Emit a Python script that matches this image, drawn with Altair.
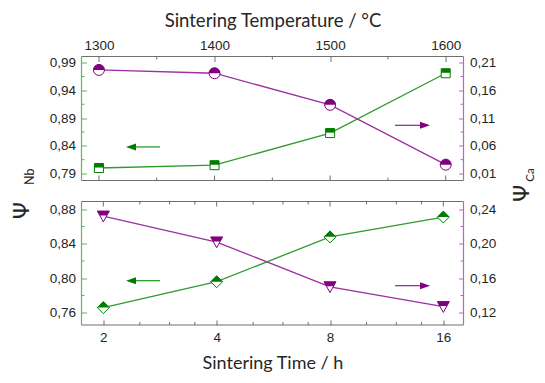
import altair as alt
import pandas as pd

# ---------------- data ----------------
temperature = [1300, 1400, 1500, 1600]
psi_nb_temp = [0.800, 0.805, 0.863, 0.971]
psi_ca_temp = [0.197, 0.191, 0.134, 0.026]

time_h = [2, 4, 8, 16]
psi_nb_time = [0.766, 0.796, 0.848, 0.871]
psi_ca_time = [0.232, 0.202, 0.150, 0.127]

temp_major = [1300, 1400, 1500, 1600]
temp_minor = [1350, 1450, 1550]
time_major = [2, 4, 8, 16]
time_minor = [2.5, 3, 3.5, 5, 6, 7, 10, 12, 14]
nb_top_major = [0.79, 0.84, 0.89, 0.94, 0.99]
nb_top_minor = [0.815, 0.865, 0.915, 0.965]
ca_top_major = [0.01, 0.06, 0.11, 0.16, 0.21]
ca_top_minor = [0.035, 0.085, 0.135, 0.185]
nb_bot_major = [0.76, 0.80, 0.84, 0.88]
nb_bot_minor = [0.78, 0.82, 0.86]
ca_bot_major = [0.12, 0.16, 0.20, 0.24]
ca_bot_minor = [0.14, 0.18, 0.22]

# arrow annotations: head, tail, level (data units)
arrow_nb_top = [1327.7, 1352.8, 0.838]
arrow_ca_top = [1582.1, 1556.1, 0.097]
arrow_nb_bot = [2.369, 2.829, 0.7972]
arrow_ca_bot = [14.31, 11.91, 0.1514]

# ---------------- styles ----------------
W = 382
H = 268.5
H1 = 124      # bottom of upper panel
H2 = 145      # top of lower panel
GREEN = "#007d00"
GREEN_LINE = "#2e9b2e"
GREEN_AXIS = "#5cb85c"
PURPLE = "#800080"
PURPLE_LINE = "#9b309f"
PURPLE_AXIS = "#b866c4"
GREY = "#6e6e6e"
TXT = "#262626"
LABEL_FONT = "Liberation Sans"
TITLE_FONT = "Lato"

SHAPES = {
    "circle": ("M-1,0A1,1,0,1,1,1,0A1,1,0,1,1,-1,0Z", "M-1,0A1,1,0,0,1,1,0Z"),
    "square": ("M-1,-1L1,-1L1,1L-1,1Z", "M-1,-1L1,-1L1,-0.1L-1,-0.1Z"),
    "diamond": ("M0,-1L1,0L0,1L-1,0Z", "M0,-1L1,0L-1,0Z"),
    "tridown": ("M-1,-0.85L1,-0.85L0,0.95Z", "M-1,-0.85L1,-0.85L0.583,-0.1L-0.583,-0.1Z"),
}
HEAD_LEFT = "M-1,0L1,-0.7L1,0.7Z"
HEAD_RIGHT = "M1,0L-1,-0.7L-1,0.7Z"

LABEL_EXPR = "replace(format(datum.value, '.2f'), '.', ',')"

one = pd.DataFrame({"a": [0]})


def y_axis(values, orient, color):
    return alt.Axis(orient=orient, values=values, labelExpr=LABEL_EXPR, offset=-5,
                    tickSize=5, tickColor=color, tickWidth=1, domain=False, grid=False,
                    labelPadding=6, labelFont=LABEL_FONT, labelFontSize=13.5,
                    labelColor=TXT, title=None)


def hrule(y, color=GREY):
    return alt.Chart(one).mark_rule(color=color, strokeWidth=1).encode(
        x=alt.value(0), x2=alt.value(W), y=alt.value(y))


def vrule(x, y0, y1, color):
    return alt.Chart(one).mark_rule(color=color, strokeWidth=1.2).encode(
        x=alt.value(x), y=alt.value(y0), y2=alt.value(y1))


def xticks(values, field_scale, y0, y1):
    return alt.Chart(pd.DataFrame({"t": values})).mark_rule(color=GREY, strokeWidth=1).encode(
        x=alt.X("t:Q", scale=field_scale, axis=None), y=alt.value(y0), y2=alt.value(y1))


def yticks(values, yscale, left, length, color):
    x0, x1 = (0, length) if left else (W - length, W)
    return alt.Chart(pd.DataFrame({"v": values})).mark_rule(color=color, strokeWidth=1).encode(
        y=alt.Y("v:Q", scale=yscale, axis=None), x=alt.value(x0), x2=alt.value(x1))


def series(xs, ys, xscale, yscale, xaxis, yaxis, mcolor, lcolor, shape, size, arrow, head):
    df = pd.DataFrame({"x": xs, "y": ys})
    base = alt.Chart(df)
    Xn = alt.X("x:Q", scale=xscale, axis=None)
    Yn = alt.Y("y:Q", scale=yscale, axis=None)
    full, half = SHAPES[shape]
    # carriers of the axes: invisible copies of the line
    layers = []
    if xaxis is not None:
        layers.append(base.mark_line(opacity=0).encode(
            x=alt.X("x:Q", scale=xscale, axis=xaxis), y=Yn))
    layers.append(base.mark_line(opacity=0).encode(
        x=Xn, y=alt.Y("y:Q", scale=yscale, axis=yaxis)))
    line = base.mark_line(color=lcolor, strokeWidth=1.3).encode(x=Xn, y=Yn)
    outline = base.mark_point(shape=full, size=size, filled=True, fill="white", stroke=mcolor,
                              strokeWidth=1, opacity=1).encode(x=Xn, y=Yn)
    top = base.mark_point(shape=half, size=size, filled=True, color=mcolor, strokeWidth=0,
                          opacity=1).encode(x=Xn, y=Yn)
    adf = pd.DataFrame({"head": [arrow[0]], "tail": [arrow[1]], "level": [arrow[2]]})
    ar = alt.Chart(adf).mark_rule(color=lcolor, strokeWidth=1.3).encode(
        x=alt.X("head:Q", scale=xscale, axis=None), x2="tail:Q",
        y=alt.Y("level:Q", scale=yscale, axis=None))
    ah = alt.Chart(adf).mark_point(shape=head, size=100, filled=True, color=mcolor,
                                   opacity=1, strokeWidth=0).encode(
        x=alt.X("head:Q", scale=xscale, axis=None), y=alt.Y("level:Q", scale=yscale, axis=None))
    return layers + [line, ar, ah, outline, top]


# ---------------- scales ----------------
xs_temp = alt.Scale(domain=[1284.9, 1615.4], range=[0, W], nice=False, zero=False)
xs_time = alt.Scale(type="log", base=2, domain=[1.75, 18.1], range=[0, W], nice=False)
ys_nb_top = alt.Scale(domain=[0.7774, 1.0012], range=[H1, 0], nice=False, zero=False)
ys_ca_top = alt.Scale(domain=[-0.0026, 0.2212], range=[H1, 0], nice=False, zero=False)
ys_nb_bot = alt.Scale(domain=[0.7458, 0.8890], range=[H, H2], nice=False, zero=False)
ys_ca_bot = alt.Scale(domain=[0.1058, 0.2490], range=[H, H2], nice=False, zero=False)

top_x_axis = alt.Axis(orient="top", values=temp_major, format="d", offset=-5, tickSize=5,
                      tickColor=GREY, domain=False, grid=False, labelPadding=4,
                      labelFont=LABEL_FONT, labelFontSize=13.5, labelColor=TXT,
                      title="Sintering Temperature / °C", titleFont=TITLE_FONT,
                      titleFontSize=18.5, titleFontWeight="normal", titleColor=TXT,
                      titlePadding=8)
bot_x_axis = alt.Axis(orient="bottom", values=time_major, format="d", offset=-5, tickSize=5,
                      tickColor=GREY, domain=False, grid=False, labelPadding=5,
                      labelFont=LABEL_FONT, labelFontSize=13.5, labelColor=TXT,
                      title="Sintering Time / h", titleFont=TITLE_FONT,
                      titleFontSize=18, titleFontWeight="normal", titleColor=TXT,
                      titlePadding=11)

layers = [
    hrule(0), hrule(H1), hrule(H2), hrule(H),
    xticks(temp_minor, xs_temp, 0, 3),
    xticks(temp_major, xs_temp, H1 - 5, H1),
    xticks(temp_minor, xs_temp, H1 - 3, H1),
    xticks(time_major, xs_time, H2, H2 + 5),
    xticks(time_minor, xs_time, H2, H2 + 3),
    xticks(time_minor, xs_time, H - 3, H),
    yticks(nb_top_minor, ys_nb_top, True, 3, GREEN_AXIS),
    yticks(ca_top_minor, ys_ca_top, False, 3, PURPLE_AXIS),
    yticks(nb_bot_minor, ys_nb_bot, True, 3, GREEN_AXIS),
    yticks(ca_bot_minor, ys_ca_bot, False, 3, PURPLE_AXIS),
    vrule(0, 0, H1, GREEN_AXIS), vrule(0, H2, H, GREEN_AXIS),
    vrule(W, 0, H1, PURPLE_AXIS), vrule(W, H2, H, PURPLE_AXIS),
]
layers += series(temperature, psi_nb_temp, xs_temp, ys_nb_top, top_x_axis,
                 y_axis(nb_top_major, "left", GREEN_AXIS), GREEN, GREEN_LINE, "square", 81,
                 arrow_nb_top, HEAD_LEFT)
layers += series(temperature, psi_ca_temp, xs_temp, ys_ca_top, None,
                 y_axis(ca_top_major, "right", PURPLE_AXIS), PURPLE, PURPLE_LINE, "circle", 121,
                 arrow_ca_top, HEAD_RIGHT)
layers += series(time_h, psi_nb_time, xs_time, ys_nb_bot, bot_x_axis,
                 y_axis(nb_bot_major, "left", GREEN_AXIS), GREEN, GREEN_LINE, "diamond", 144,
                 arrow_nb_bot, HEAD_LEFT)
layers += series(time_h, psi_ca_time, xs_time, ys_ca_bot, None,
                 y_axis(ca_bot_major, "right", PURPLE_AXIS), PURPLE, PURPLE_LINE, "tridown", 144,
                 arrow_ca_bot, HEAD_RIGHT)

for txt, x, y, size, font in [("Ψ", -59.5, 154.2, 22, "DejaVu Sans"),
                              ("Nb", -51.5, 120.2, 12.5, TITLE_FONT),
                              ("Ψ", W + 58.5, 136.8, 22, "DejaVu Sans"),
                              ("Ca", W + 67, 118.5, 11.5, TITLE_FONT)]:
    layers.append(alt.Chart(one).mark_text(text=txt, angle=270, font=font, fontSize=size,
                                           color=TXT, align="center", baseline="middle").encode(
        x=alt.value(x), y=alt.value(y)))

chart = alt.layer(*layers).resolve_scale(
    x="independent", y="independent"
).properties(
    width=W, height=H,
    autosize=alt.AutoSizeParams(type="none"),
    padding={"left": 73.5, "top": 48.5, "right": 73.5, "bottom": 50},
).configure_view(stroke=None)

chart.save("out.html", embed_options={"renderer": "svg", "actions": False})
